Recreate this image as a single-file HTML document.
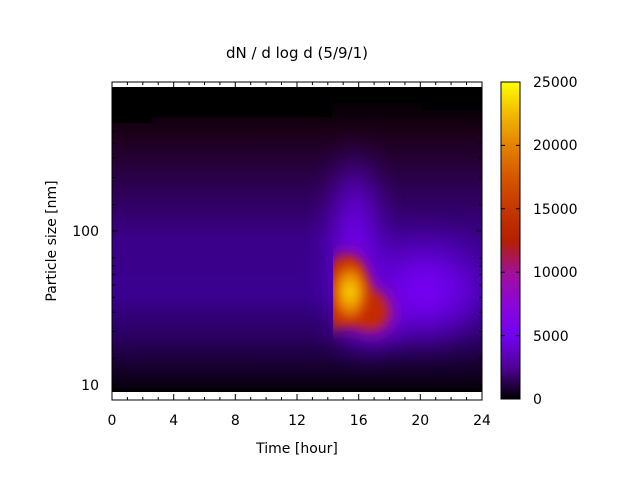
<!DOCTYPE html>
<html><head><meta charset="utf-8"><style>
html,body{margin:0;padding:0;background:#fff;}
svg{display:block;font-family:"DejaVu Sans","Liberation Sans",sans-serif;}
</style></head><body>
<svg width="640" height="480" viewBox="0 0 640 480" xmlns="http://www.w3.org/2000/svg">
<defs>
<linearGradient id="bg" x1="0" y1="0" x2="0" y2="1">
<stop offset="0" stop-color="#000000"/>
<stop offset="0.08" stop-color="#0a0008"/>
<stop offset="0.15" stop-color="#1c0018"/>
<stop offset="0.3" stop-color="#2a0048"/>
<stop offset="0.5" stop-color="#3a0088"/>
<stop offset="0.68" stop-color="#3a0090"/>
<stop offset="0.82" stop-color="#2a0060"/>
<stop offset="0.93" stop-color="#140028"/>
<stop offset="1" stop-color="#050008"/>
</linearGradient>
<linearGradient id="cb" x1="0" y1="1" x2="0" y2="0">
<stop offset="0" stop-color="#000000"/>
<stop offset="0.1" stop-color="#500096"/>
<stop offset="0.2" stop-color="#7202f2"/>
<stop offset="0.3" stop-color="#8c06d8"/>
<stop offset="0.4" stop-color="#a11096"/>
<stop offset="0.5" stop-color="#b42000"/>
<stop offset="0.6" stop-color="#c53700"/>
<stop offset="0.7" stop-color="#d55700"/>
<stop offset="0.8" stop-color="#e48200"/>
<stop offset="0.9" stop-color="#f2ba00"/>
<stop offset="1" stop-color="#ffff00"/>
</linearGradient>
<radialGradient id="blob" cx="0.5" cy="0.5" r="0.5">
<stop offset="0" stop-color="#ffe400"/>
<stop offset="0.35" stop-color="#f0a800"/>
<stop offset="0.7" stop-color="#e07000"/>
<stop offset="1" stop-color="#d05000" stop-opacity="0"/>
</radialGradient>
<radialGradient id="vio" cx="0.5" cy="0.5" r="0.5">
<stop offset="0" stop-color="#8000ff"/>
<stop offset="0.5" stop-color="#7000f0" stop-opacity="0.8"/>
<stop offset="1" stop-color="#5000c0" stop-opacity="0"/>
</radialGradient>
<filter id="bl" x="-50%" y="-50%" width="200%" height="200%"><feGaussianBlur stdDeviation="5"/></filter>
<filter id="bl3" x="-50%" y="-50%" width="200%" height="200%"><feGaussianBlur stdDeviation="9"/></filter>
<filter id="bl2" x="-50%" y="-50%" width="200%" height="200%"><feGaussianBlur stdDeviation="14"/></filter>
<clipPath id="cp"><rect x="112" y="87" width="370" height="305"/></clipPath>
<clipPath id="cpb"><rect x="333" y="87" width="150" height="305"/></clipPath>
</defs>
<text x="297" y="58" font-size="15" text-anchor="middle">dN / d log d (5/9/1)</text>
<g clip-path="url(#cp)">
<rect x="112" y="87" width="370" height="305" fill="url(#bg)"/>
<g filter="url(#bl2)">
<ellipse cx="425" cy="290" rx="80" ry="65" fill="url(#vio)"/>
<ellipse cx="355" cy="250" rx="32" ry="115" fill="url(#vio)"/>
<ellipse cx="375" cy="320" rx="40" ry="35" fill="url(#vio)"/>
</g>
<g clip-path="url(#cpb)">
<path d="M328 268 Q345 240 362 262 L372 288 Q392 292 392 318 Q380 340 360 330 Q345 322 328 334 Z" fill="#b02070" filter="url(#bl3)"/>
<path d="M330 268 Q346 248 360 264 L368 290 Q388 296 386 318 Q376 332 360 326 Q345 320 330 330 Z" fill="#c42c00" filter="url(#bl)"/>
<ellipse cx="350" cy="292" rx="20" ry="32" fill="url(#blob)" filter="url(#bl)"/>
</g>
<rect x="112" y="87" width="40" height="36" fill="#000"/>
<rect x="152" y="87" width="180" height="30" fill="#000"/>
<rect x="332" y="87" width="90" height="16" fill="#000"/>
<rect x="422" y="87" width="60" height="23" fill="#000"/>
<rect x="112" y="388" width="370" height="4" fill="#080008"/>
</g>
<rect x="112" y="392" width="370" height="8" fill="#fff"/>
<rect x="112" y="389" width="370" height="3" fill="#000"/>
<rect x="112" y="82" width="370" height="318" fill="none" stroke="#000" stroke-width="1"/>
<g stroke="#000" stroke-width="1">
<path d="M112 400v-6M112 82v6M127.4 400v-3M142.8 400v-3M158.2 400v-3M173.7 400v-6M189.1 400v-3M204.5 400v-3M219.9 400v-3M235.3 400v-6M250.7 400v-3M266.1 400v-3M281.5 400v-3M297 400v-6M312.4 400v-3M327.8 400v-3M343.2 400v-3M358.7 400v-6M374.1 400v-3M389.5 400v-3M404.9 400v-3M420.3 400v-6M435.7 400v-3M451.1 400v-3M466.5 400v-3M482 400v-6"/>
<path d="M127.4 82v3M142.8 82v3M158.2 82v3M173.7 82v6M189.1 82v3M204.5 82v3M219.9 82v3M235.3 82v6M250.7 82v3M266.1 82v3M281.5 82v3M297 82v6M312.4 82v3M327.8 82v3M343.2 82v3M358.7 82v6M374.1 82v3M389.5 82v3M404.9 82v3M420.3 82v6M435.7 82v3M451.1 82v3M466.5 82v3M482 82v6"/>
<path d="M112 385h6M482 385h-6M112 231h6M482 231h-6"/>
<path d="M112 358.6h3M112 331.5h3M112 312.2h3M112 297.3h3M112 285.1h3M112 274.8h3M112 265.9h3M112 258h3M112 204.6h3M112 177.5h3M112 158.2h3M112 143.3h3M112 131.1h3M112 120.8h3M112 111.9h3M112 104h3"/>
<path d="M482 358.6h-3M482 331.5h-3M482 312.2h-3M482 297.3h-3M482 285.1h-3M482 274.8h-3M482 265.9h-3M482 258h-3M482 204.6h-3M482 177.5h-3M482 158.2h-3M482 143.3h-3M482 131.1h-3M482 120.8h-3M482 111.9h-3M482 104h-3"/>
</g>
<g font-size="14" text-anchor="middle">
<text x="112" y="425">0</text><text x="173.7" y="425">4</text><text x="235.3" y="425">8</text><text x="297" y="425">12</text><text x="358.7" y="425">16</text><text x="420.3" y="425">20</text><text x="482" y="425">24</text>
<text x="297" y="453">Time [hour]</text>
</g>
<g font-size="14" text-anchor="end">
<text x="99" y="390">10</text><text x="99" y="236">100</text>
</g>
<text transform="translate(56,241) rotate(-90)" font-size="14" text-anchor="middle">Particle size [nm]</text>
<rect x="501" y="82" width="19" height="317" fill="url(#cb)" stroke="#000" stroke-width="1"/>
<g stroke="#000"><path d="M501 145.4h4M520 145.4h-4M501 208.8h4M520 208.8h-4M501 272.2h4M520 272.2h-4M501 335.6h4M520 335.6h-4"/></g>
<g font-size="14">
<text x="533" y="87">25000</text><text x="533" y="150">20000</text><text x="533" y="214">15000</text><text x="533" y="277">10000</text><text x="533" y="341">5000</text><text x="533" y="404">0</text>
</g>
</svg>
</body></html>
